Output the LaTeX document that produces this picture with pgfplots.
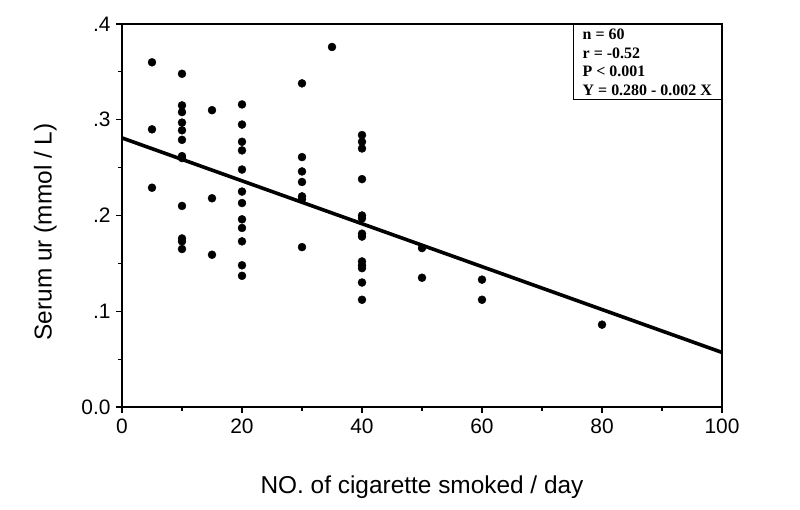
\documentclass[border=0pt]{standalone}
\usepackage{fontspec}
\setmainfont{Liberation Sans}
\newfontfamily\boxfont{Liberation Serif}
\usepackage{pgfplots}
\pgfplotsset{compat=1.18}
\usetikzlibrary{calc}

\begin{document}
\begin{tikzpicture}[x=1bp,y=1bp]
\begin{axis}[
  width=600bp, height=383bp, scale only axis,
  xmin=0, xmax=100, ymin=0, ymax=0.4,
  axis line style={line width=1.8bp},
  xtick={0,20,40,60,80,100},
  xticklabels={0,20,40,60,80,100},
  minor x tick num=1,
  ytick={0,0.1,0.2,0.3,0.4},
  yticklabels={0.0,.1,.2,.3,.4},
  minor y tick num=1,
  xtick pos=bottom, ytick pos=left,
  tick align=outside,
  major tick length=6bp, minor tick length=4bp,
  every tick/.style={black, line width=1.2bp},
  tick label style={font=\fontsize{21}{21}\selectfont},
  xticklabel style={anchor=base, yshift=-20bp},
  yticklabel style={anchor=east, xshift=-2bp},
  xlabel={NO. of cigarette smoked / day},
  ylabel={Serum ur (mmol / L)},
  label style={font=\fontsize{24.5}{24.5}\selectfont},
  xlabel style={at={(axis description cs:0.5,-0.227)}, anchor=base},
  ylabel style={at={(axis description cs:-0.128,0.457)}, anchor=center},
  clip=false,
]
% scatter
\addplot[only marks, mark=*, mark size=4bp, black] coordinates {
(5,0.360) (5,0.290) (5,0.229)
(10,0.348) (10,0.315) (10,0.308) (10,0.297) (10,0.289) (10,0.279)
(10,0.262) (10,0.260) (10,0.210) (10,0.176) (10,0.173) (10,0.165)
(15,0.310) (15,0.218) (15,0.159)
(20,0.316) (20,0.295) (20,0.277) (20,0.268) (20,0.248) (20,0.225)
(20,0.213) (20,0.196) (20,0.187) (20,0.173) (20,0.148) (20,0.137)
(30,0.338) (30,0.261) (30,0.246) (30,0.235) (30,0.220) (30,0.217) (30,0.167)
(35,0.376)
(40,0.284) (40,0.277) (40,0.270) (40,0.238) (40,0.200) (40,0.197)
(40,0.181) (40,0.178) (40,0.152) (40,0.148) (40,0.145) (40,0.130) (40,0.112)
(50,0.166) (50,0.135)
(60,0.133) (60,0.112)
(80,0.086)
};
% regression line
\addplot[black, line width=3.6bp] coordinates {(0,0.281) (100,0.057)};
% stats box
\node[draw, line width=1.5bp, anchor=north east, align=left,
      minimum width=148bp, minimum height=75bp, inner xsep=6bp, inner ysep=2bp,
      font=\boxfont\bfseries\fontsize{16}{18.5}\selectfont]
  at (rel axis cs:1,1) {n = 60\\ r = -0.52\\ P < 0.001\\ Y = 0.280 - 0.002 X};
\end{axis}
\path[use as bounding box] ($(current axis.south west)+(-122bp,-103bp)$) rectangle ($(current axis.north east)+(78bp,24bp)$);
\end{tikzpicture}
\end{document}
